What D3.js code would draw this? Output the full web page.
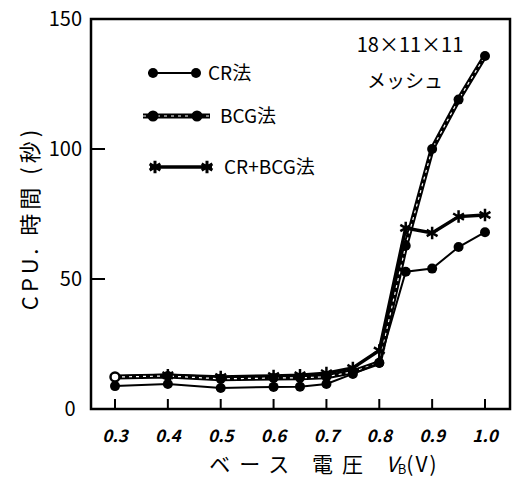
<!DOCTYPE html>
<html>
<head>
<meta charset="utf-8">
<script src="https://cdn.jsdelivr.net/npm/d3@7"></script>
<style>
	body { margin: 0; background: #fff; }
	svg { display: block; }
	text { font-family: "Noto Sans CJK JP", "DejaVu Sans", sans-serif; fill: #000; }
</style>
</head>
<body>
<svg width="512" height="478"></svg>
<script>
// voltages (V)
var voltages = [0.3, 0.4, 0.5, 0.6, 0.65, 0.7, 0.75, 0.8, 0.85, 0.9, 0.95, 1.0];
// CPU time (s)
var crTimes = [8.8, 9.6, 8.1, 8.5, 8.6, 9.6, 13.5, 17.7, 52.8, 54, 62.3, 68];
var bcgTimes = [12.3, 12.7, 11.6, 11.9, 12, 12.4, 14.3, 17.8, 62.8, 100, 119, 135.8];
var crBcgTimes = [12.3, 13, 12.3, 12.7, 13, 13.8, 15.8, 22.5, 69.6, 67.7, 74, 74.6];

var xTicks = [0.3, 0.4, 0.5, 0.6, 0.7, 0.8, 0.9, 1.0];
var xTickLabels = ["0.3", "0.4", "0.5", "0.6", "0.7", "0.8", "0.9", "1.0"];
var yTicks = [0, 50, 100, 150];

var svg = d3.select("svg");

var x = d3.scaleLinear().domain([0.3, 1.0]).range([115, 485]);
var y = d3.scaleLinear().domain([0, 150]).range([409, 19]);

// frame
var frame = {left: 91, top: 19, right: 510, bottom: 409};
svg.append("path")
	.attr("d", "M" + frame.left + "," + frame.top + "H" + frame.right + "V" + frame.bottom +
		"H" + frame.left + "Z")
	.attr("fill", "none")
	.attr("stroke", "#000")
	.attr("stroke-width", 2.5);

// x ticks pointing up from the bottom edge
svg.append("g")
	.selectAll("line")
	.data(xTicks)
	.join("line")
	.attr("x1", d => x(d)).attr("x2", d => x(d))
	.attr("y1", frame.bottom).attr("y2", frame.bottom - 10)
	.attr("stroke", "#000").attr("stroke-width", 2);

svg.append("g")
	.selectAll("text")
	.data(xTicks)
	.join("text")
	.attr("x", d => x(d))
	.attr("y", 442)
	.attr("text-anchor", "middle")
	.attr("font-size", 17)
	.attr("font-style", "italic")
	.attr("font-weight", "bold")
	.text((d, i) => xTickLabels[i]);

// y ticks pointing right from the left edge
svg.append("g")
	.selectAll("line")
	.data(yTicks.filter(d => d > 0 && d < 150))
	.join("line")
	.attr("x1", frame.left).attr("x2", frame.left + 14)
	.attr("y1", d => y(d)).attr("y2", d => y(d))
	.attr("stroke", "#000").attr("stroke-width", 2);

svg.append("g")
	.selectAll("text")
	.data(yTicks)
	.join("text")
	.attr("x", d => d == 0 ? 70 : 82)
	.attr("y", d => y(d) + 7)
	.attr("text-anchor", d => d == 0 ? "middle" : "end")
	.attr("font-size", 20)
	.text(d => d);

// axis titles
svg.append("text")
	.attr("transform", "translate(38,218) rotate(-90)")
	.attr("text-anchor", "middle")
	.attr("font-size", 22)
	.attr("letter-spacing", 4)
	.text("CPU. 時間 (秒)");

var xTitle = svg.append("text")
	.attr("x", 324)
	.attr("y", 472)
	.attr("text-anchor", "middle")
	.attr("font-size", 21);
xTitle.append("tspan").attr("letter-spacing", 9).text("ベース 電圧 ");
xTitle.append("tspan").attr("font-style", "italic").text("V");
xTitle.append("tspan").attr("font-size", 13).attr("dy", 2).text("B");
xTitle.append("tspan").attr("dy", -2).attr("letter-spacing", 2).text("(V)");

// mesh note
svg.append("text")
	.attr("x", 410).attr("y", 52)
	.attr("text-anchor", "middle")
	.attr("font-size", 20)
	.text("18×11×11");
svg.append("text")
	.attr("x", 405).attr("y", 88)
	.attr("text-anchor", "middle")
	.attr("font-size", 19)
	.text("メッシュ");

var line = d3.line()
	.x(d => x(d[0]))
	.y(d => y(d[1]));

function pairs(values) {
	return voltages.map((v, i) => [v, values[i]]);
}

// BCG: heavy line with a broken white core
function drawBcg(g, pts) {
	g.append("path")
		.attr("d", line(pts))
		.attr("fill", "none")
		.attr("stroke", "#000")
		.attr("stroke-width", 5)
		.attr("stroke-linejoin", "round");
	g.append("path")
		.attr("d", line(pts))
		.attr("fill", "none")
		.attr("stroke", "#fff")
		.attr("stroke-width", 1.2)
		.attr("stroke-dasharray", "3,4");
}

function drawDots(g, pts, r) {
	g.selectAll(null)
		.data(pts)
		.join("circle")
		.attr("cx", d => x(d[0]))
		.attr("cy", d => y(d[1]))
		.attr("r", r)
		.attr("fill", "#000");
}

var star = d3.symbol().type(d3.symbolAsterisk).size(110);

function drawStars(g, pts) {
	g.selectAll(null)
		.data(pts)
		.join("path")
		.attr("d", star)
		.attr("transform", d => "translate(" + x(d[0]) + "," + y(d[1]) + ")")
		.attr("fill", "none")
		.attr("stroke", "#000")
		.attr("stroke-width", 2.5);
}

var plot = svg.append("g");

// CR+BCG
var gStar = plot.append("g");
gStar.append("path")
	.attr("d", line(pairs(crBcgTimes)))
	.attr("fill", "none")
	.attr("stroke", "#000")
	.attr("stroke-width", 3.5);
drawStars(gStar, pairs(crBcgTimes).slice(1));

// BCG
var gBcg = plot.append("g");
drawBcg(gBcg, pairs(bcgTimes));
drawDots(gBcg, pairs(bcgTimes).slice(1), 5);
gBcg.append("circle")
	.attr("cx", x(voltages[0])).attr("cy", y(bcgTimes[0]))
	.attr("r", 4.5)
	.attr("fill", "#fff").attr("stroke", "#000").attr("stroke-width", 2.5);

// CR
var gCr = plot.append("g");
gCr.append("path")
	.attr("d", line(pairs(crTimes)))
	.attr("fill", "none")
	.attr("stroke", "#000")
	.attr("stroke-width", 2);
drawDots(gCr, pairs(crTimes), 5);

// legend
var legend = [
	{name: "CR法", y: 73, x1: 148, x2: 197, tx: 208, kind: "cr"},
	{name: "BCG法", y: 116, x1: 143, x2: 210, tx: 220, kind: "bcg"},
	{name: "CR+BCG法", y: 167, x1: 150, x2: 212, tx: 224, kind: "star"}
];

legend.forEach(function (item) {
	var g = svg.append("g");
	var pts = [[x.invert(item.x1), y.invert(item.y)], [x.invert(item.x2), y.invert(item.y)]];
	if (item.kind == "cr") {
		g.append("path").attr("d", line(pts)).attr("stroke", "#000").attr("stroke-width", 2);
		g.selectAll(null).data([153, 196]).join("circle")
			.attr("cx", d => d).attr("cy", item.y).attr("r", 5).attr("fill", "#000");
	} else if (item.kind == "bcg") {
		drawBcg(g, pts);
		g.selectAll(null).data([153, 197]).join("circle")
			.attr("cx", d => d).attr("cy", item.y).attr("r", 5.5).attr("fill", "#000");
	} else {
		g.append("path").attr("d", line(pts)).attr("stroke", "#000").attr("stroke-width", 3.5);
		g.selectAll(null).data([155, 207]).join("path")
			.attr("d", star)
			.attr("transform", d => "translate(" + d + "," + item.y + ")")
			.attr("fill", "none").attr("stroke", "#000").attr("stroke-width", 3);
	}
	g.append("text")
		.attr("x", item.tx)
		.attr("y", item.y + 7)
		.attr("font-size", 19)
		.text(item.name);
});
</script>
</body>
</html>
